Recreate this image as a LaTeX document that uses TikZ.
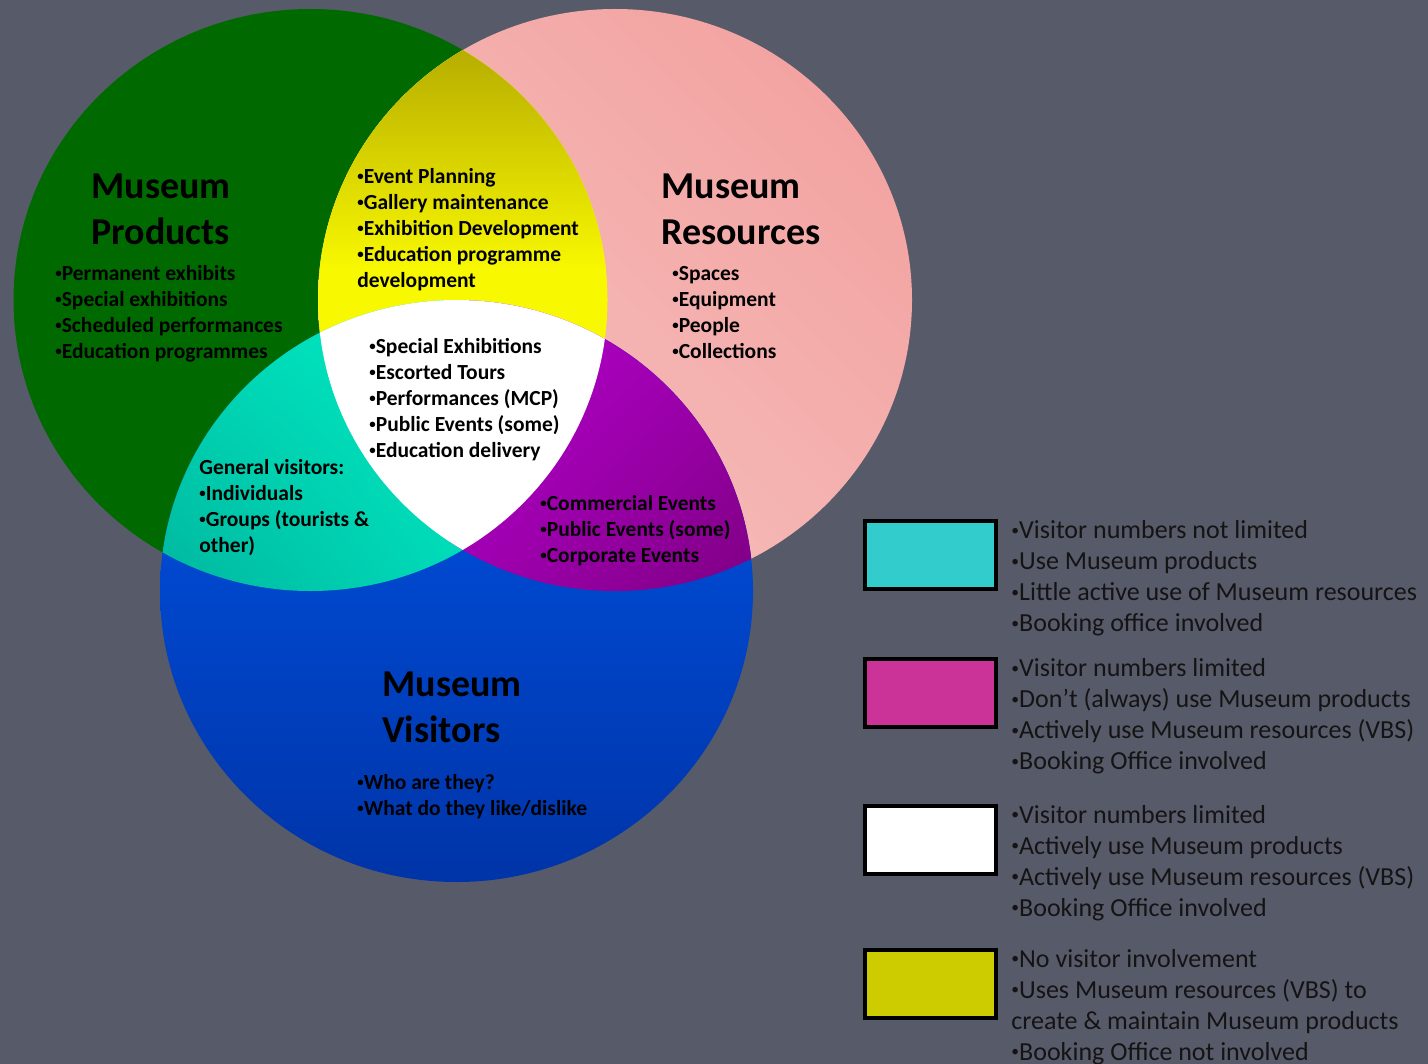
\documentclass[tikz,border=0pt]{standalone}
\usepackage{fontspec}
\setmainfont{Carlito}
\usetikzlibrary{positioning,shadings}

\definecolor{slidegrey}{HTML}{575A69}
\definecolor{prodgreen}{HTML}{006A00}
\definecolor{respinkA}{HTML}{F29E9C}
\definecolor{respinkB}{HTML}{F7C6C4}
\definecolor{respinkC}{HTML}{F4B2B0}
\definecolor{visblueA}{HTML}{0058EE}
\definecolor{visblueB}{HTML}{0034A8}
\definecolor{planolive}{HTML}{B4AA00}
\definecolor{planyellow}{HTML}{F8F800}
\definecolor{genteal}{HTML}{00EEC4}
\definecolor{gentealB}{HTML}{00B49C}
\definecolor{gentealC}{HTML}{00DAB8}
\definecolor{evmagA}{HTML}{BA00D6}
\definecolor{evmagB}{HTML}{7C0080}
\definecolor{evmagC}{HTML}{A000B0}
\definecolor{keycyan}{HTML}{33CCCC}
\definecolor{keymagenta}{HTML}{CC3399}
\definecolor{keyyellow}{HTML}{CCCC00}

\tikzset{
  setshape/.style={x radius=148.5pt,y radius=145.5pt},
  visshape/.style={x radius=148.25pt,y radius=145.5pt}
}
\newcommand\bul{\raisebox{.12em}{\scalebox{.6}{•}}}

\begin{document}
\begin{tikzpicture}[x=0.5pt,y=-0.5pt,
  region/.style={anchor=base west,align=left,inner sep=0pt,
    font=\fontsize{10.75pt}{13pt}\selectfont\bfseries},
  heading/.style={anchor=base west,align=left,inner sep=0pt,
    font=\fontsize{19pt}{23pt}\selectfont\bfseries},
  legbox/.style={draw=black,line width=2pt,minimum width=65.5pt,minimum height=34pt,inner sep=0pt},
  legtext/.style={below right=56.25pt and 6.5pt of #1.north east,anchor=base west,align=left,
    inner sep=0pt,text=black!92,font=\fontsize{13pt}{15.5pt}\selectfont}]

  \useasboundingbox (0,0) rectangle (1428,1064);
  \fill[slidegrey] (0,0) rectangle (1428,1064);

  \coordinate (cProd) at (310.5,300);
  \coordinate (cRes) at (615,300);
  \coordinate (cVis) at (456.5,591);

  % the three sets
  \fill[prodgreen] (cProd) circle[setshape];
  \shade[upper right=respinkA,lower left=respinkB,upper left=respinkC,lower right=respinkC]
    (cRes) circle[setshape];
  \shade[top color=visblueA,bottom color=visblueB] (cVis) circle[visshape];

  % products and resources
  \begin{scope}
    \clip (cProd) circle[setshape];
    \clip (cRes) circle[setshape];
    \fill[planyellow] (300,40) rectangle (630,560);
    \shade[top color=planolive,middle color=planyellow,bottom color=planyellow] (300,40) rectangle (630,270);
  \end{scope}
  % products and visitors
  \begin{scope}
    \clip (cProd) circle[setshape];
    \clip (cVis) circle[visshape];
    \shade[upper right=genteal,lower left=gentealB,upper left=gentealC,lower right=gentealC]
      (150,290) rectangle (470,600);
  \end{scope}
  % resources and visitors
  \begin{scope}
    \clip (cRes) circle[setshape];
    \clip (cVis) circle[visshape];
    \shade[upper left=evmagA,lower right=evmagB,upper right=evmagC,lower left=evmagC]
      (450,290) rectangle (760,600);
  \end{scope}
  % all three
  \begin{scope}
    \clip (cProd) circle[setshape];
    \clip (cRes) circle[setshape];
    \clip (cVis) circle[visshape];
    \fill[white] (150,280) rectangle (760,600);
  \end{scope}

  % texts in the diagram (placed at the baseline of their last line)
  \node[heading] (prodTitle) at (91,244) {Museum\\Products};
  \node[region] (prodList) at (55,358) {\bul Permanent exhibits\\\bul Special exhibitions\\\bul Scheduled performances\\\bul Education programmes};
  \node[heading] (resTitle) at (661,244) {Museum\\Resources};
  \node[region] (resList) at (672,358) {\bul Spaces\\\bul Equipment\\\bul People\\\bul Collections};
  \node[region] (plan) at (357,287) {\bul Event Planning\\\bul Gallery maintenance\\\bul Exhibition Development\\\bul Education programme\\development};
  \node[region] (core) at (369,457) {\bul Special Exhibitions\\\bul Escorted Tours\\\bul Performances (MCP)\\\bul Public Events (some)\\\bul Education delivery};
  \node[region] (general) at (199,552) {General visitors:\\\bul Individuals\\\bul Groups (tourists \&\\other)};
  \node[region] (events) at (540,562) {\bul Commercial Events\\\bul Public Events (some)\\\bul Corporate Events};
  \node[heading] (visTitle) at (382,742) {Museum\\Visitors};
  \node[region] (visList) at (357,815) {\bul Who are they?\\\bul What do they like/dislike};

  % key
  \node[legbox,fill=keycyan] (keyGen) at (930.5,555) {};
  \node[legtext=keyGen] (keyGenText) {\bul Visitor numbers not limited\\\bul Use Museum products\\\bul Little active use of Museum resources\\\bul Booking office involved};
  \node[legbox,fill=keymagenta] (keyEv) at (930.5,693) {};
  \node[legtext=keyEv] (keyEvText) {\bul Visitor numbers limited\\\bul Don’t (always) use Museum products\\\bul Actively use Museum resources (VBS)\\\bul Booking Office involved};
  \node[legbox,fill=white] (keyCore) at (930.5,839.5) {};
  \node[legtext=keyCore] (keyCoreText) {\bul Visitor numbers limited\\\bul Actively use Museum products\\\bul Actively use Museum resources (VBS)\\\bul Booking Office involved};
  \node[legbox,fill=keyyellow] (keyPlan) at (930.5,983.5) {};
  \node[legtext=keyPlan] (keyPlanText) {\bul No visitor involvement\\\bul Uses Museum resources (VBS) to\\create \& maintain Museum products\\\bul Booking Office not involved};
\end{tikzpicture}
\end{document}
